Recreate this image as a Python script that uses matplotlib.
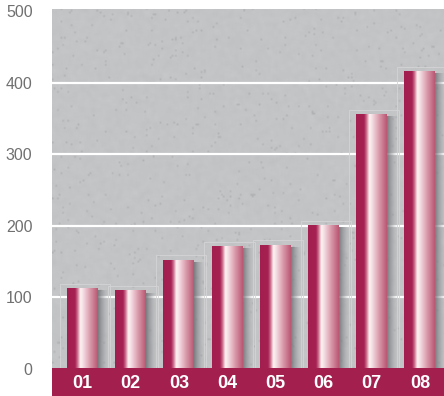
import numpy as np
import matplotlib
matplotlib.use("Agg")
import matplotlib.pyplot as plt
from matplotlib.colors import LinearSegmentedColormap
from matplotlib.patches import Rectangle
from numpy.fft import fft2, ifft2

# Data
categories = ["01", "02", "03", "04", "05", "06", "07", "08"]
values = [112, 109, 152, 171, 173, 200, 355, 415]
y_ticks = [0, 100, 200, 300, 400, 500]

crimson = "#A3204E"
bg_gray = (0.765, 0.769, 0.773)

fig = plt.figure(figsize=(4.44, 3.96), dpi=100)
W, H = 444, 396
ax = fig.add_axes([52 / W, 0, (W - 52) / W, (H - 9) / H])

y_lo, y_hi = -37.6, 502.8
x_lo, x_hi = -0.633, 7.5
ax.set_xlim(x_lo, x_hi)
ax.set_ylim(y_lo, y_hi)

# Stone-like textured background
rng = np.random.default_rng(7)
tex = rng.normal(0, 1, (200, 230))
k = np.zeros_like(tex)
k[:2, :2] = 1
k[-1:, :2] = 1
k[:2, -1:] = 1
k[-1:, -1:] = 1
smooth = np.real(ifft2(fft2(tex) * fft2(k / k.sum())))
speck = (rng.random((200, 230)) > 0.982) * -0.07
base = np.array(bg_gray)
img = np.clip(base[None, None, :] + 0.012 * smooth[..., None] + speck[..., None], 0, 1)
ax.imshow(img, extent=[x_lo, x_hi, 0, y_hi], aspect="auto", zorder=0,
          interpolation="bilinear")

# White gridlines
for yv in y_ticks[1:-1]:
    ax.axhline(yv, color="white", lw=1.6, zorder=1)

# Bar gradient: deep crimson on the left, a white highlight, pink fade to the right
bar_cmap = LinearSegmentedColormap.from_list("bar", [
    (0.00, (0.64, 0.12, 0.31)),
    (0.26, (0.65, 0.13, 0.32)),
    (0.34, (0.80, 0.43, 0.55)),
    (0.43, (0.99, 0.95, 0.95)),
    (0.50, (0.97, 0.89, 0.91)),
    (0.75, (0.85, 0.60, 0.67)),
    (1.00, (0.73, 0.34, 0.45)),
])
shadow_cmap = LinearSegmentedColormap.from_list("shadow", [
    (0.0, (0.42, 0.43, 0.45, 0.85)),
    (0.5, (0.55, 0.56, 0.58, 0.45)),
    (1.0, (0.70, 0.71, 0.72, 0.0)),
])

bw = 0.64
grad = np.linspace(0, 1, 256)[None, :]
for i, v in enumerate(values):
    x0, x1 = i - bw / 2, i + bw / 2
    # faint glass outline behind the bar
    ax.add_patch(Rectangle((x0 - 0.15, 0), bw + 0.4, v + 7, fill=False,
                           ec=(0.83, 0.83, 0.84), lw=0.6, zorder=1.5))
    # drop shadow on the right side
    ax.imshow(grad, cmap=shadow_cmap, extent=[x1, x1 + 0.22, 0, v - 3],
              aspect="auto", zorder=2)
    ax.imshow(grad, cmap=bar_cmap, extent=[x0, x1, 0, v], aspect="auto",
              zorder=3, interpolation="bilinear")

# Crimson baseline band with category labels
ax.add_patch(Rectangle((x_lo, y_lo), x_hi - x_lo, -y_lo + 1.5, color=crimson,
                       zorder=4, lw=0))
for i, c in enumerate(categories):
    ax.text(i, y_lo / 2 - 1, c, ha="center", va="center", color="white",
            fontsize=13, fontweight="bold", family="Liberation Sans", zorder=5)

ax.set_xticks([])
ax.set_yticks(y_ticks)
ax.set_yticklabels([str(t) for t in y_ticks], fontsize=11.5, color="#707070",
                   family="Liberation Sans")
ax.tick_params(axis="y", length=0, pad=14)
for s in ax.spines.values():
    s.set_visible(False)

fig.savefig("out.png", dpi=100, facecolor="white")
